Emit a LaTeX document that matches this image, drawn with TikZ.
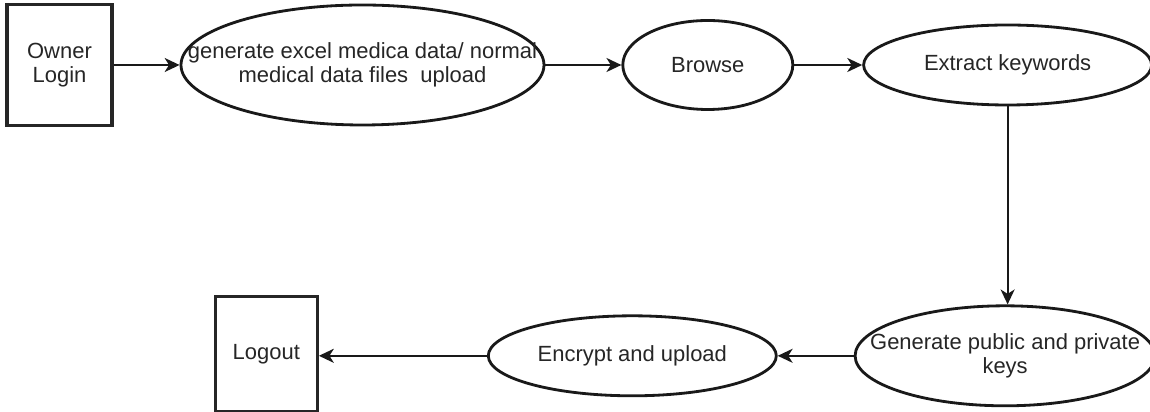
\documentclass[tikz,border=0pt]{standalone}
\usepackage{fontspec}
\setmainfont{Liberation Sans}
\usetikzlibrary{arrows.meta, positioning, shapes.geometric}
\newcommand{\dfdfont}{\fontsize{12.5}{14}\selectfont}
\tikzset{
  node distance=13mm and 13mm,
  >={Stealth[length=8.5pt, width=8pt, inset=2.5pt]},
  actor/.style={rectangle, draw=black!85, line width=1.8pt, align=center,
                inner sep=0pt, font=\dfdfont, text=black!85},
  proc/.style={ellipse, draw=black!90, line width=1.6pt, align=center,
               inner xsep=-1cm, inner ysep=0pt, font=\dfdfont, text=black!85},
  flow/.style={->, line width=1pt, draw=black!90},
}

\begin{document}
\begin{tikzpicture}
  \useasboundingbox (0,0) rectangle (23,-8.24);
  \node[actor, minimum width=2.1cm, minimum height=2.42cm] (owner) at (1.19,-1.30) {Owner\\Login};
  \node[proc, minimum width=7.26cm, minimum height=2.4cm, right=1.32cm of owner] (upload) {generate excel medica data/ normal\\medical data files\ \ upload};
  \node[proc, minimum width=3.4cm, minimum height=1.78cm, right=1.52cm of upload] (browse) {Browse};
  \node[proc, minimum width=5.76cm, minimum height=1.6cm, right=1.36cm of browse] (extract) {Extract keywords};
  \node[proc, minimum width=6cm, minimum height=2cm, below=3.96cm of extract, xshift=-0.05cm] (keys) {Generate public and private\\keys};
  \node[proc, minimum width=5.76cm, minimum height=1.6cm, left=1.52cm of keys] (encrypt) {Encrypt and upload};
  \node[actor, minimum width=2.04cm, minimum height=2.3cm, left=3.36cm of encrypt, yshift=0.03cm] (logout) {Logout};
  \draw[flow] (owner) -- (upload);
  \draw[flow] (upload) -- (browse);
  \draw[flow] (browse) -- (extract);
  \draw[flow] (extract) -- (extract |- keys.north);
  \draw[flow] (keys) -- (encrypt);
  \draw[flow] (encrypt) -- (encrypt -| logout.east);
\end{tikzpicture}
\end{document}
